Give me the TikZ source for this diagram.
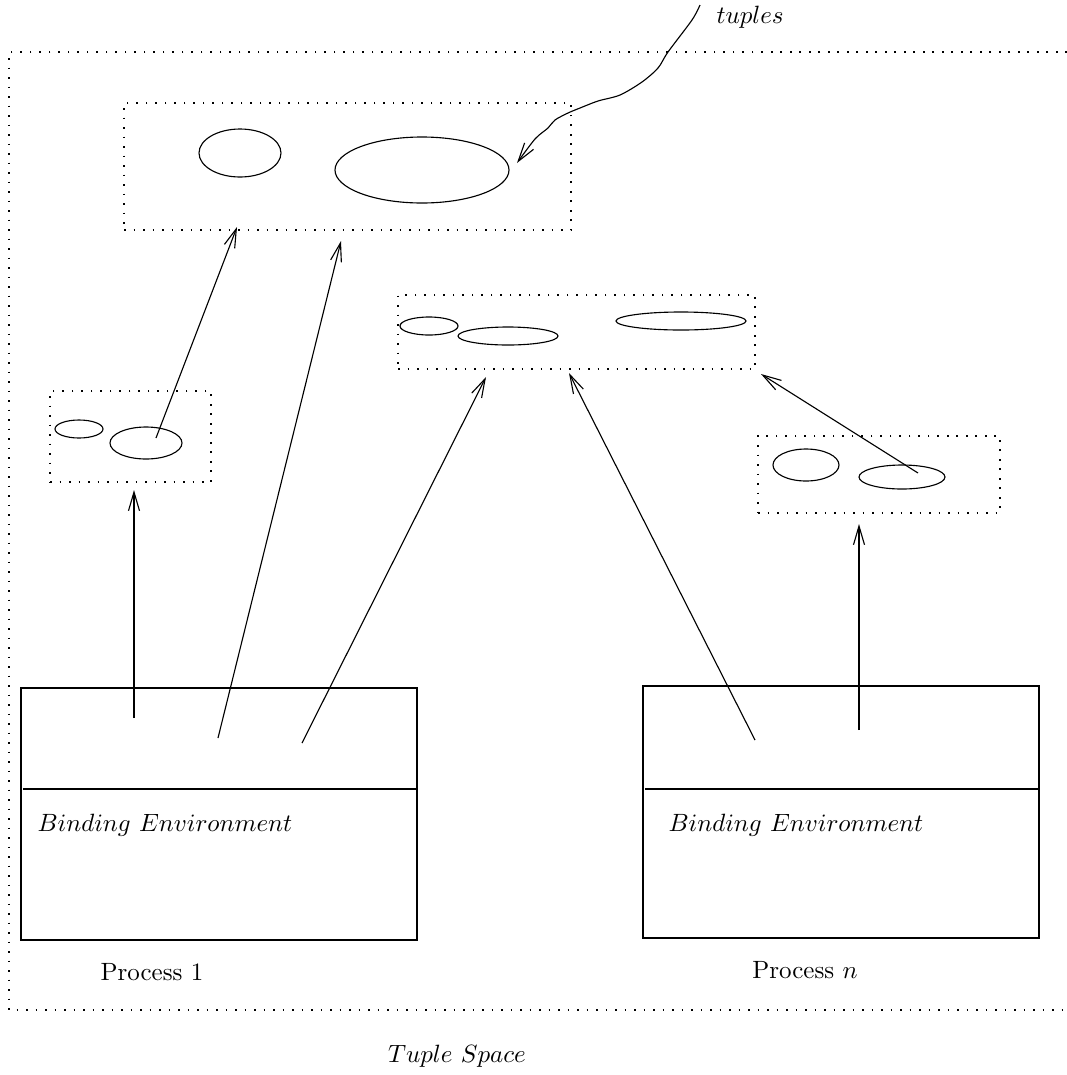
\documentclass[tikz,border=0pt]{standalone}
\usetikzlibrary{shapes.geometric,arrows.meta}
\begin{document}
\begin{tikzpicture}[x=0.4pt,y=-0.4pt,
  dotbox/.style={draw,dash pattern=on 0.7pt off 3.1pt,line width=0.6pt,rectangle,inner sep=0pt},
  blob/.style={draw,ellipse,inner sep=0pt,line width=0.45pt},
  procbox/.style={draw,rectangle,inner sep=0pt,line width=0.45pt},
  arr/.style={line width=0.45pt,-{Straight Barb[length=7.5pt,width=4.4pt]}},
  lbl/.style={inner sep=0pt,font=\fontsize{10}{12}\selectfont}]
\useasboundingbox (0,0) rectangle (1067,1075);
% outer tuple space
\draw[dash pattern=on 0.7pt off 3.1pt,line width=0.6pt] (1067,52) -- (9,52) -- (9,1010) -- (1067,1010);
% top box
\node[dotbox,minimum width=447*0.4pt,minimum height=127*0.4pt] (topbox) at (347.5,166.5) {};
\node[blob,minimum width=82*0.4pt,minimum height=48*0.4pt] (t1) at (240,153) {};
\node[blob,minimum width=174*0.4pt,minimum height=66*0.4pt] (t2) at (422,170) {};
% middle box
\node[dotbox,minimum width=357*0.4pt,minimum height=74*0.4pt] (midbox) at (576.5,332) {};
\node[blob,minimum width=58*0.4pt,minimum height=18*0.4pt] (m1) at (429,326) {};
\node[blob,minimum width=100*0.4pt,minimum height=18*0.4pt] (m2) at (508,336) {};
\node[blob,minimum width=130*0.4pt,minimum height=18*0.4pt] (m3) at (681,321) {};
% left small box
\node[dotbox,minimum width=161*0.4pt,minimum height=91*0.4pt] (lbox) at (130.5,436.5) {};
\node[blob,minimum width=48*0.4pt,minimum height=18*0.4pt] (l1) at (79,429) {};
\node[blob,minimum width=72*0.4pt,minimum height=32*0.4pt] (l2) at (146,443) {};
% right small box
\node[dotbox,minimum width=242*0.4pt,minimum height=77*0.4pt] (rbox) at (879,474.5) {};
\node[blob,minimum width=66*0.4pt,minimum height=32*0.4pt] (r1) at (806,465) {};
\node[blob,minimum width=86*0.4pt,minimum height=24*0.4pt] (r2) at (902,477) {};
% process boxes
\node[procbox,minimum width=396*0.4pt,minimum height=252*0.4pt] (p1) at (219,814) {};
\draw[line width=0.45pt] (23,789) -- (p1.east |- 0,789);
\node[lbl,anchor=west] (be1) at (37,825) {$Binding\ Environment$};
\node[lbl] (pl1) at (152,972) {Process 1};
\node[procbox,minimum width=396*0.4pt,minimum height=252*0.4pt] (pn) at (841,812) {};
\draw[line width=0.45pt] (645,789) -- (pn.east |- 0,789);
\node[lbl,anchor=west] (ben) at (668,825) {$Binding\ Environment$};
\node[lbl] (pln) at (805,970) {Process $n$};
\node[lbl] (ts) at (457,1056) {$Tuple\ Space$};
\node[lbl,anchor=west] (tup) at (716,17) {$tuples$};
% arrow endpoints
\coordinate (a1s) at (134,718); \coordinate (a1e) at (134,490);
\coordinate (a2s) at (156,438); \coordinate (a2e) at (237,227);
\coordinate (a3s) at (218,738); \coordinate (a3e) at (341,241);
\coordinate (a4s) at (302,743); \coordinate (a4e) at (486,377);
\coordinate (a5s) at (755,740); \coordinate (a5e) at (569,373);
\coordinate (a6s) at (859,730); \coordinate (a6e) at (859,524);
\coordinate (a7s) at (918,473); \coordinate (a7e) at (761,374);
\coordinate (tus) at (700,5); \coordinate (tue) at (517,163);
\draw[arr] (a1s) -- (a1e);
\draw[arr] (a2s) -- (a2e);
\draw[arr] (a3s) -- (a3e);
\draw[arr] (a4s) -- (a4e);
\draw[arr] (a5s) -- (a5e);
\draw[arr] (a6s) -- (a6e);
\draw[arr] (a7s) -- (a7e);
\draw[arr] plot[smooth,tension=0.5] coordinates {(tus) (692,20) (668,52) (658,68) (642,82) (620,95) (598,101) (580,108) (568,113) (555,120) (548,128) (535,139) (tue)};
\end{tikzpicture}
\end{document}
